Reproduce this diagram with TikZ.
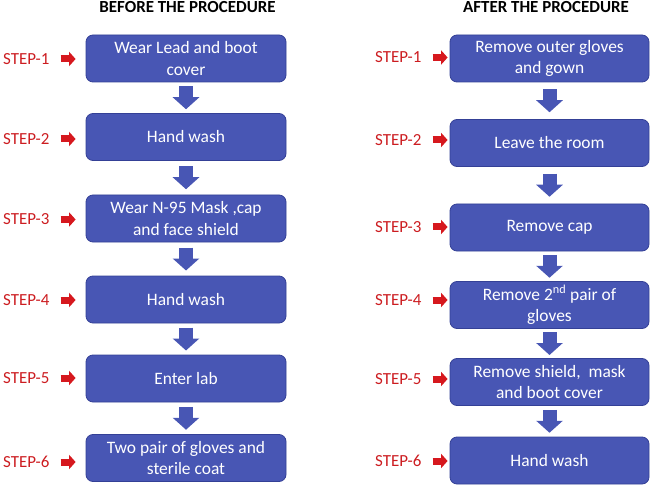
\documentclass[tikz,border=0pt]{standalone}
\usepackage{fontspec}
\setmainfont{Carlito}
\usetikzlibrary{calc,arrows.meta}
\definecolor{boxblue}{RGB}{72,86,180}
\definecolor{boxedge}{RGB}{52,64,150}
\definecolor{stepred}{RGB}{204,28,32}
\definecolor{arrred}{RGB}{214,24,30}
\tikzset{
  stepbox/.style={draw=boxedge, line width=0.8bp, fill=boxblue, rounded corners=7bp,
    minimum width=199bp, minimum height=47bp, inner sep=0pt, align=center,
    text=white, font=\fontsize{17.5}{21.7}\selectfont},
  steplabel/.style={anchor=west, inner sep=0pt, text=stepred, font=\fontsize{17}{20}\selectfont},
  titlelabel/.style={anchor=base, inner sep=0pt, font=\fontsize{17}{20}\selectfont\bfseries},
  downarr/.style={draw=boxblue, line width=14bp,
    -{Triangle[width=26bp,length=12bp]}},
  redarr/.style={draw=arrred, line width=7bp,
    -{Triangle[width=14bp,length=6.5bp]}}
}
\begin{document}
\begin{tikzpicture}[x=1bp,y=-1bp]
\useasboundingbox (0,0) rectangle (652,486);
% titles
\node[titlelabel] (tb) at (187.5,13) {BEFORE THE PROCEDURE};
\node[titlelabel] (ta) at (546,13) {AFTER THE PROCEDURE};
% left boxes
\node[stepbox, minimum width=200bp] (l1) at (186,58.5) {Wear Lead and boot\\cover};
\node[stepbox, minimum width=200bp] (l2) at (186,137) {Hand wash};
\node[stepbox, minimum width=200bp] (l3) at (186,218.5) {Wear N-95 Mask ,cap\\and face shield};
\node[stepbox, minimum width=200bp] (l4) at (186,299.5) {Hand wash};
\node[stepbox, minimum width=200bp] (l5) at (186,378.5) {Enter lab};
\node[stepbox, minimum width=200bp] (l6) at (186,458) {Two pair of gloves and\\sterile coat};
% right boxes
\node[stepbox] (r1) at (549.5,58.5) {Remove outer gloves\\and gown};
\node[stepbox] (r2) at (549.5,143) {Leave the room};
\node[stepbox] (r3) at (549.5,227.5) {Remove cap};
\node[stepbox] (r4) at (549.5,305) {Remove 2\textsuperscript{nd} pair of\\gloves};
\node[stepbox] (r5) at (549.5,382) {Remove shield, \ mask\\and boot cover};
\node[stepbox] (r6) at (549.5,460.5) {Hand wash};
% down arrows
\foreach \a/\b in {l1/l2,l2/l3,l3/l4,l4/l5,l5/l6,r1/r2,r2/r3,r3/r4,r4/r5,r5/r6}{
  \draw[downarr] ($(\a.south)!0.5!(\b.north)+(0,-11.5)$) -- ($(\a.south)!0.5!(\b.north)+(0,11.5)$);
}
% left step labels
\node[steplabel] (ls1) at (3,59) {STEP-1};
\node[steplabel] (ls2) at (3,139) {STEP-2};
\node[steplabel] (ls3) at (3,219.5) {STEP-3};
\node[steplabel] (ls4) at (3,300) {STEP-4};
\node[steplabel] (ls5) at (3,378) {STEP-5};
\node[steplabel] (ls6) at (3,462) {STEP-6};
% right step labels
\node[steplabel] (rs1) at (375,57.5) {STEP-1};
\node[steplabel] (rs2) at (375,140) {STEP-2};
\node[steplabel] (rs3) at (375,227) {STEP-3};
\node[steplabel] (rs4) at (375,300) {STEP-4};
\node[steplabel] (rs5) at (375,379) {STEP-5};
\node[steplabel] (rs6) at (375,461) {STEP-6};
% red arrows
\foreach \s in {ls1,ls2,ls3,ls4,ls5,ls6,rs1,rs2,rs3,rs4,rs5,rs6}{
  \draw[redarr] ([xshift=11bp]\s.east) -- ([xshift=26bp]\s.east);
}
\end{tikzpicture}
\end{document}
